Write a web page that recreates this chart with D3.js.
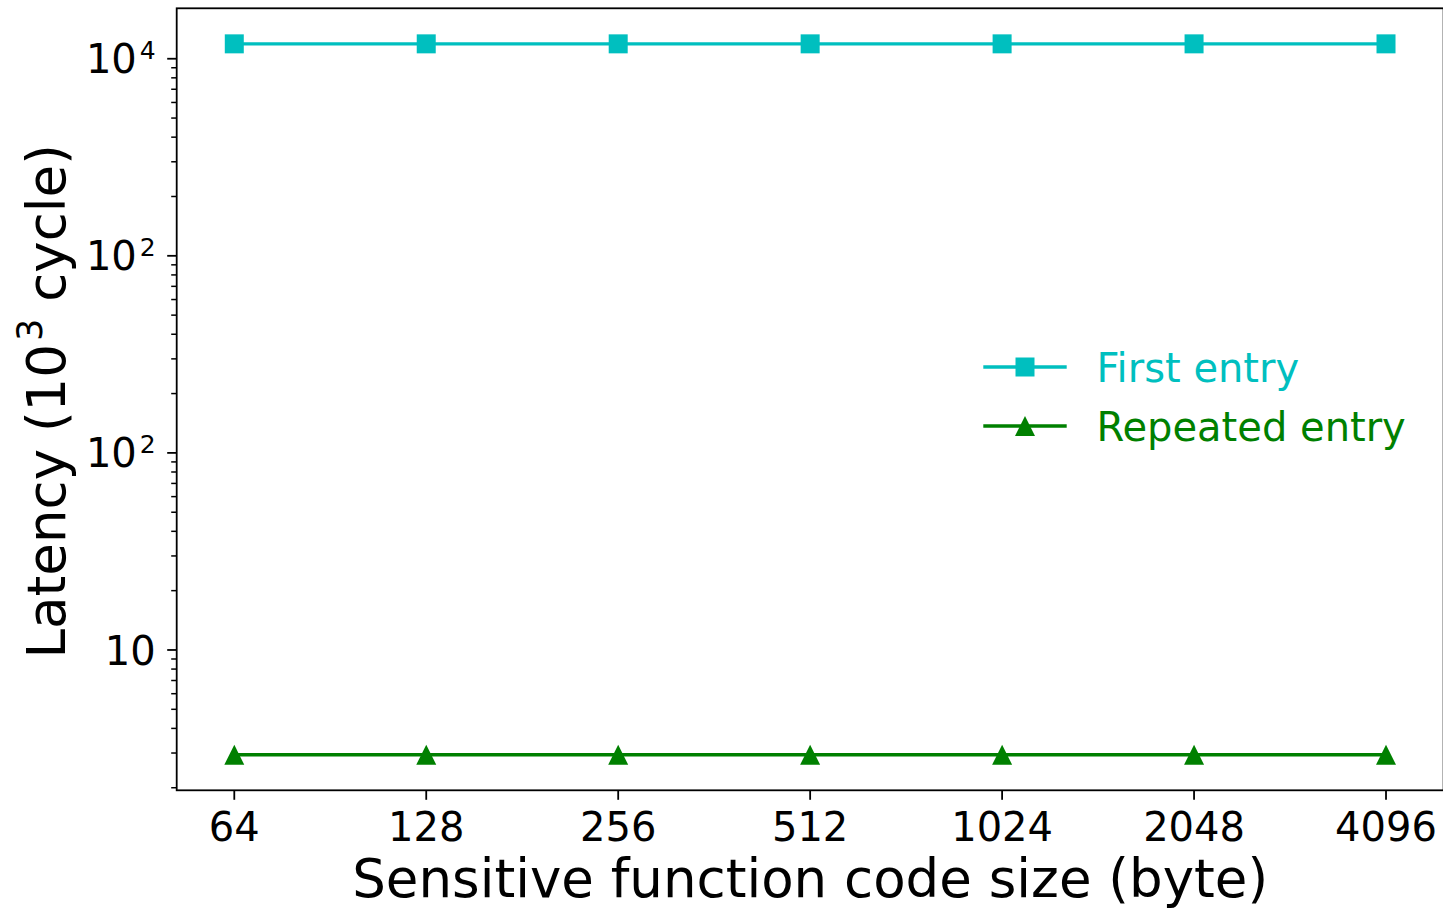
<!DOCTYPE html>
<html>
<head>
<meta charset="utf-8">
<script src="https://cdn.jsdelivr.net/npm/d3@7"></script>
<style>
  html, body { margin: 0; padding: 0; background: #fff; }
  svg { display: block; font-family: "DejaVu Sans", sans-serif; }
</style>
</head>
<body>
<svg id="chart" width="1443" height="910"></svg>
<script>
// Code size of the sensitive function, in bytes
const codeSizes = [64, 128, 256, 512, 1024, 2048, 4096];
// Latency in thousands of cycles
const firstEntry = [11900, 11900, 11900, 11900, 11900, 11900, 11900];
const repeatedEntry = [2.94, 2.94, 2.94, 2.94, 2.94, 2.94, 2.94];
// Major y ticks and the labels printed at them (base and exponent)
const yTickValues = [10, 100, 1000, 10000];
const yTickBase = ["10", "10", "10", "10"];
const yTickExp = ["", "2", "2", "4"];
const xTickLabels = ["64", "128", "256", "512", "1024", "2048", "4096"];
const seriesNames = ["First entry", "Repeated entry"];

const CYAN = "#00bfbf", GREEN = "#008000";

const svg = d3.select("#chart");
const plot = { left: 176.7, right: 1443.6, top: 8.3, bottom: 790.3 };

// x: log2 spacing, 5% margin on either side
const lx0 = Math.log2(d3.min(codeSizes)), lx1 = Math.log2(d3.max(codeSizes));
const mx = (lx1 - lx0) * 0.05;
const x = d3.scaleLog().base(2)
  .domain([Math.pow(2, lx0 - mx), Math.pow(2, lx1 + mx)])
  .range([plot.left, plot.right]);

// y: log10, 5% margin in log space
const allY = firstEntry.concat(repeatedEntry);
const ly0 = Math.log10(d3.min(allY)), ly1 = Math.log10(d3.max(allY));
const my = (ly1 - ly0) * 0.05;
const y = d3.scaleLog()
  .domain([Math.pow(10, ly0 - my), Math.pow(10, ly1 + my)])
  .range([plot.bottom, plot.top]);

// minor ticks 2..9 for each decade inside the domain
const minorTicks = [];
for (let k = -1; k <= 5; k++) {
  for (let m = 2; m <= 9; m++) {
    const v = m * Math.pow(10, k);
    if (v >= y.domain()[0] && v <= y.domain()[1]) minorTicks.push(v);
  }
}

const axisColor = "#000";
const spineW = 1.8;
const tickFont = 40;

// y axis ticks
const yAxisG = svg.append("g");
yAxisG.selectAll("line.minor").data(minorTicks).enter().append("line")
  .attr("x1", plot.left - 5.5).attr("x2", plot.left)
  .attr("y1", d => y(d)).attr("y2", d => y(d))
  .attr("stroke", axisColor).attr("stroke-width", 1.5);
yAxisG.selectAll("line.major").data(yTickValues).enter().append("line")
  .attr("x1", plot.left - 9.5).attr("x2", plot.left)
  .attr("y1", d => y(d)).attr("y2", d => y(d))
  .attr("stroke", axisColor).attr("stroke-width", spineW);

// y tick labels, with superscript exponents
yTickValues.forEach((v, i) => {
  const hasExp = !!yTickExp[i];
  const t = yAxisG.append("text")
    .attr("text-anchor", "end")
    .attr("x", plot.left - 21)
    .attr("y", y(v) + (hasExp ? 14.4 : 15.3))
    .attr("font-size", tickFont)
    .attr("fill", "#000");
  t.append("tspan").text(yTickBase[i]);
  if (hasExp) {
    t.append("tspan").attr("font-size", 25).attr("dx", 3).attr("dy", -14.4).text(yTickExp[i]);
  }
});

// x axis ticks and labels
const xAxisG = svg.append("g");
xAxisG.selectAll("line").data(codeSizes).enter().append("line")
  .attr("x1", d => x(d)).attr("x2", d => x(d))
  .attr("y1", plot.bottom).attr("y2", plot.bottom + 9.5)
  .attr("stroke", axisColor).attr("stroke-width", spineW);
xAxisG.selectAll("text").data(codeSizes).enter().append("text")
  .attr("x", d => x(d)).attr("y", 840.7)
  .attr("text-anchor", "middle").attr("font-size", tickFont)
  .text((d, i) => xTickLabels[i]);

// axis titles
svg.append("text")
  .attr("x", (plot.left + plot.right) / 2).attr("y", 897)
  .attr("text-anchor", "middle").attr("font-size", 53)
  .text("Sensitive function code size (byte)");

const yl = svg.append("text")
  .attr("transform", `translate(65,${(plot.top + plot.bottom) / 2 + 2}) rotate(-90)`)
  .attr("text-anchor", "middle").attr("font-size", 53);
yl.append("tspan").text("Latency (10");
yl.append("tspan").attr("font-size", 35).attr("dx", 3).attr("dy", -23).text("3");
yl.append("tspan").attr("dy", 23).text(" cycle)");

// series
const series = [
  { name: seriesNames[0], values: firstEntry, color: CYAN, marker: "square" },
  { name: seriesNames[1], values: repeatedEntry, color: GREEN, marker: "triangle" }
];
const line = d3.line().x(d => x(d[0])).y(d => y(d[1]));
const sq = d3.symbol().type(d3.symbolSquare).size(19 * 19);
function triPath(s) {
  const h = s / 2;
  return `M0,${-h}L${h},${h}L${-h},${h}Z`;
}

series.forEach(s => {
  const pts = codeSizes.map((c, i) => [c, s.values[i]]);
  svg.append("path").datum(pts)
    .attr("d", line).attr("fill", "none")
    .attr("stroke", s.color).attr("stroke-width", 3.4);
  svg.selectAll(null).data(pts).enter().append("path")
    .attr("transform", d => `translate(${x(d[0])},${y(d[1])})`)
    .attr("d", s.marker === "square" ? sq() : triPath(20))
    .attr("fill", s.color);
});

// legend
const legendRows = [367, 426];
const lg = svg.append("g");
series.forEach((s, i) => {
  const cy = legendRows[i];
  lg.append("line").attr("x1", 983.3).attr("x2", 1066.7)
    .attr("y1", cy).attr("y2", cy)
    .attr("stroke", s.color).attr("stroke-width", 3.4);
  lg.append("path").attr("transform", `translate(1025,${cy})`)
    .attr("d", s.marker === "square" ? sq() : triPath(20))
    .attr("fill", s.color);
  lg.append("text").attr("x", 1096.5).attr("y", cy + 14.7)
    .attr("font-size", tickFont).attr("fill", s.color).text(s.name);
});

// frame
svg.append("rect")
  .attr("x", plot.left).attr("y", plot.top)
  .attr("width", plot.right - plot.left).attr("height", plot.bottom - plot.top)
  .attr("fill", "none").attr("stroke", axisColor).attr("stroke-width", spineW);
</script>
</body>
</html>
